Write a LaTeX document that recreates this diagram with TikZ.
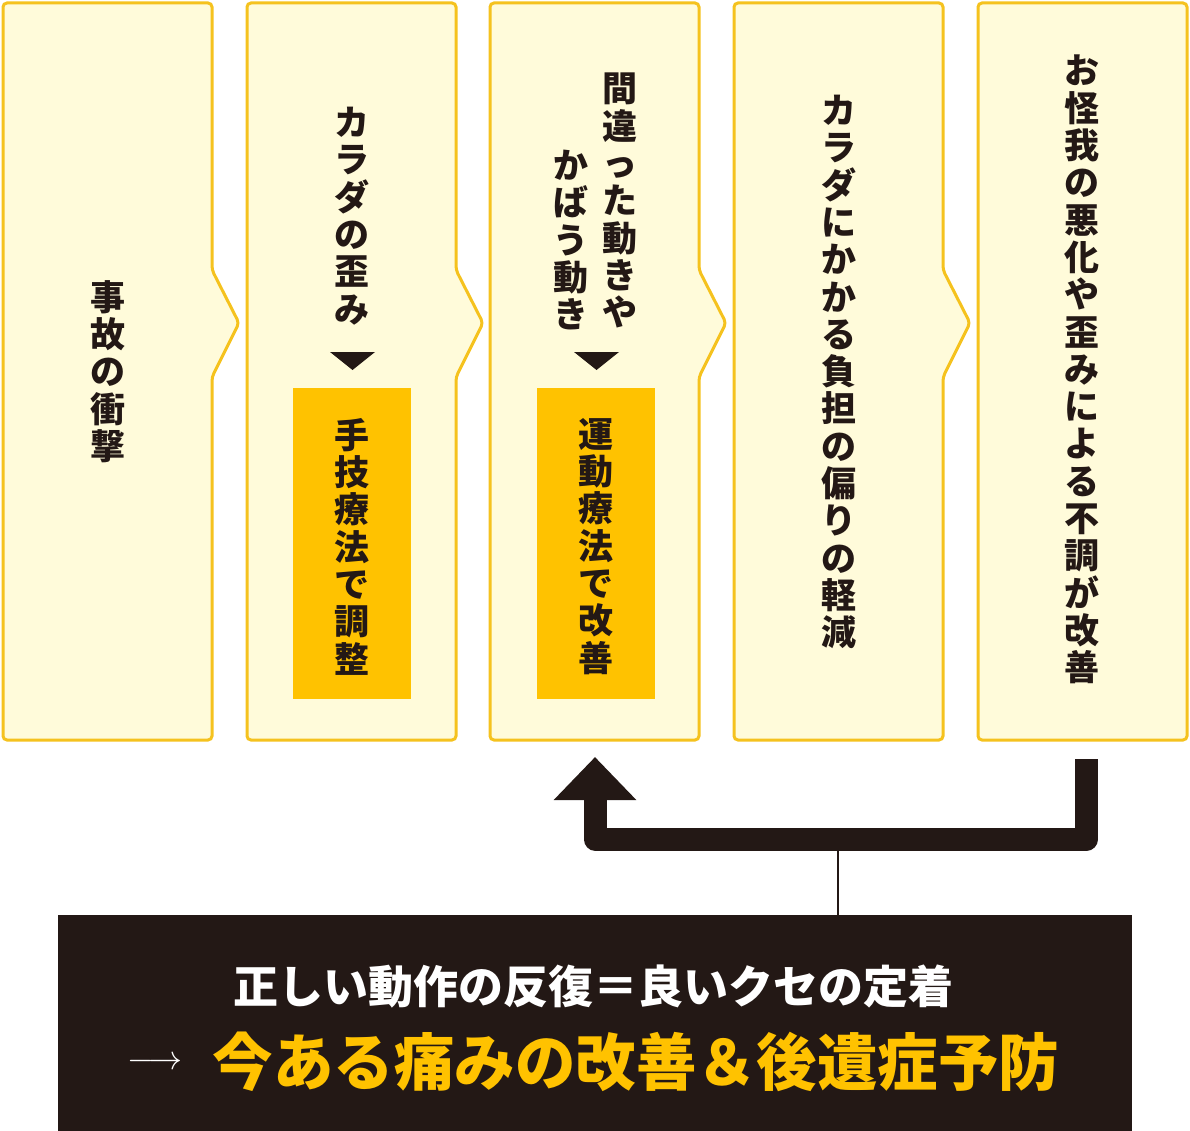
\documentclass[tikz,border=0pt]{standalone}
\usepackage{fontspec}
\usepackage{graphicx}
\usetikzlibrary{arrows.meta}
\newfontfamily\jp{Noto Sans CJK JP}
\definecolor{ink}{HTML}{231815}
\definecolor{boxline}{HTML}{F5C21E}
\definecolor{boxfill}{HTML}{FFFBDA}
\definecolor{accent}{HTML}{FFC200}
\begin{document}
\begin{tikzpicture}[x=1pt,y=-1pt,
  flowbox/.style={draw=boxline, fill=boxfill, line width=3pt, rounded corners=4pt},
  vtext/.style={font={\jp\bfseries\fontsize{35}{37.3}\selectfont}, text=ink, align=center, inner sep=0pt, anchor=north},
  tagbox/.style={fill=accent, draw=none, anchor=north west, inner sep=0pt},
  marker/.style={fill=ink, draw=none},
  feedback/.style={draw=ink, line width=23pt, line join=round, -{Triangle[width=80pt,length=43pt]}},
  link/.style={draw=ink, line width=2pt},
  banner/.style={fill=ink, draw=none, anchor=north west, inner sep=0pt, minimum width=1074pt, minimum height=216pt},
]
\useasboundingbox (0,0) rectangle (1190,1131);

% step boxes with arrow notch
\foreach \L in {3,247,490,734}{
  \draw[flowbox] (\L,3) -- (\L+209,3) -- (\L+209,270) -- (\L+236,323) -- (\L+209,377) -- (\L+209,740) -- (\L,740) -- cycle;
}
\draw[flowbox] (978,3) rectangle (1187,740);

% orange boxes
\node[tagbox, minimum width=118pt, minimum height=311pt] (tag2) at (293,388) {};
\node[tagbox, minimum width=118pt, minimum height=311pt] (tag3) at (537,388) {};

% triangles
\fill[marker] (330,352) -- (375,352) -- (352.5,370) -- cycle;
\fill[marker] (574,352) -- (619,352) -- (596.5,370) -- cycle;

% texts
\node[vtext] (t1) at (108,280) {事\\故\\の\\衝\\撃};
\node[vtext] (t2) at (352,107) {カ\\ラ\\ダ\\の\\歪\\み};
\node[vtext] (t2b) at (352,418) {手\\技\\療\\法\\で\\調\\整};
\node[vtext] (t3a) at (620,73) {間\\違\\っ\\た\\動\\き\\や};
\node[vtext] (t3b) at (571,150) {か\\ば\\う\\動\\き};
\node[vtext] (t3c) at (596,418) {運\\動\\療\\法\\で\\改\\善};
\node[vtext] (t4) at (839,95) {カ\\ラ\\ダ\\に\\か\\か\\る\\負\\担\\の\\偏\\り\\の\\軽\\減};
\node[vtext] (t5) at (1082,55) {お\\怪\\我\\の\\悪\\化\\や\\歪\\み\\に\\よ\\る\\不\\調\\が\\改\\善};

% banner
\node[banner] (bottom) at (58,915) {};
\node[text=white, font={\jp\bfseries\fontsize{45}{50}\selectfont}, inner sep=0pt] (line1) at (593,987) {正しい動作の反復＝良いクセの定着};
\node[text=white, inner sep=0pt] (arrowtxt) at (155,1063) {\scalebox{3.4}{$\longrightarrow$}};
\node[text=accent, font={\jp\bfseries\fontsize{62}{68}\selectfont}, inner sep=0pt] (line2) at (636,1062) {\scalebox{0.975}[1]{今ある痛みの改善＆後遺症予防}};

% feedback connector
\coordinate (fbstart) at (1086.5,759);
\coordinate (fbc1) at (1086.5,839);
\coordinate (fbc2) at (595,839);
\coordinate (fbend) at (595,757);
\draw[feedback] (fbstart) -- (fbc1) -- (fbc2) -- (fbend);
\coordinate (fbmid) at (838,850);
\draw[link] (fbmid) -- (fbmid |- bottom.north);
\end{tikzpicture}
\end{document}
